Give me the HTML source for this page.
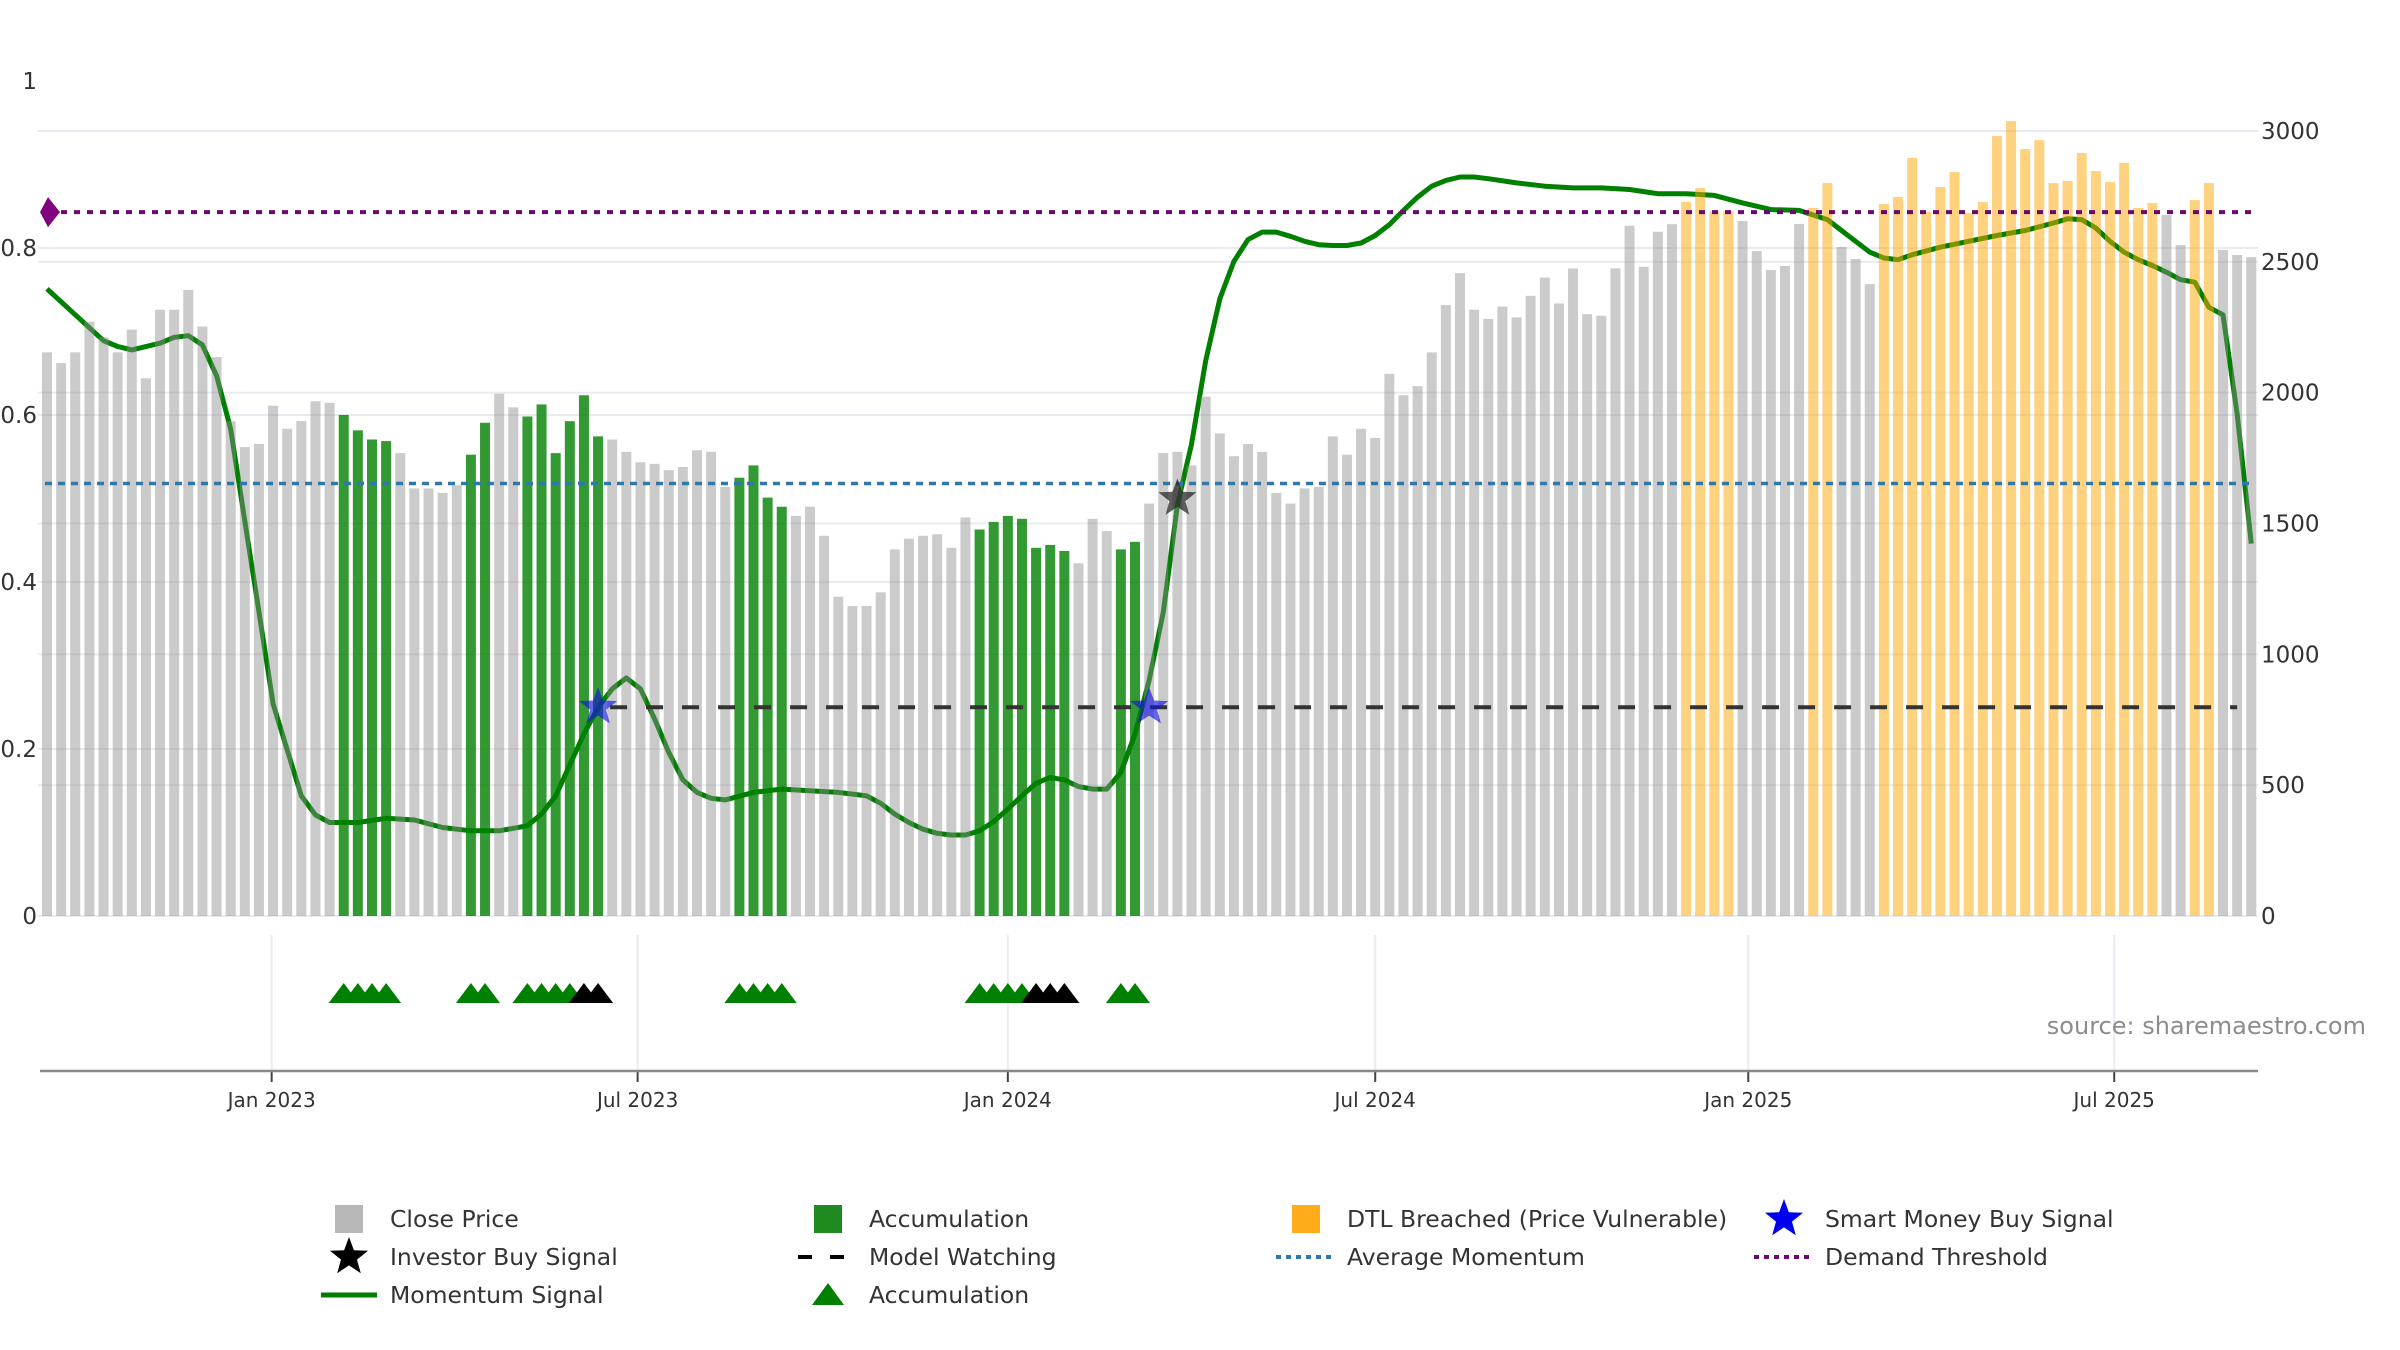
<!DOCTYPE html>
<html><head><meta charset="utf-8"><style>
html,body{margin:0;padding:0;background:#fff;}
svg{display:block;font-family:"DejaVu Sans","Liberation Sans",sans-serif;}
</style></head><body>
<svg id="chart" width="2400" height="1350" viewBox="0 0 2400 1350" xmlns="http://www.w3.org/2000/svg">
<g id="grid"></g>
<g id="lines"></g>
<g id="bars"></g>
<g id="refs"></g>
<g id="marks"></g>
<g id="axes"></g>
<text x="2366" y="1034" text-anchor="end" font-size="24" fill="#8c8c8c">source: sharemaestro.com</text>
<g id="legend"></g>
</svg>
<script>
const prices=[2154,2113,2154,2271,2212,2154,2241,2055,2317,2317,2393,2253,2136,1891,1792,1804,1950,1862,1891,1967,1961,
1915,1856,1821,1815,1769,1634,1634,1617,1646,1763,1885,1996,1944,1909,1955,1769,1891,1990,1833,1821,1774,1734,1728,1704,1716,1780,1774,1640,
1675,1722,1599,1564,1529,1564,1453,1220,1185,1185,1237,1401,1442,1453,1459,1407,1523,1477,1506,1529,1518,1407,1418,1395,1348,1518,1471,1401,1430,
1576,1769,1774,1722,1985,1844,1757,1804,1774,1617,1576,1634,1640,1833,1763,1862,1827,2072,1990,2025,2154,2335,2457,2317,2282,2329,2288,2370,2440,
2341,2475,2300,2294,2475,2638,2481,2615,2644,
2729,2782,2694,2694,2656,2541,2469,2484,2645,2706,2801,2557,2511,2415,2721,2748,2897,2690,2786,2843,2687,2729,2981,3038,2931,2965,2801,2809,2916,2847,2805,
2878,2706,2725,2679,2564,2736,2801,2545,2526,2518];
const accumIdx=[21,22,23,24,30,31,34,35,36,37,38,39,49,50,51,52,66,67,68,69,70,71,72,76,77];
const watchTriIdx=[38,39,70,71,72];
const dtlIdx=[116,117,118,119,125,126,130,131,132,133,134,135,136,137,138,139,140,141,142,143,144,145,146,147,148,149,152,153];
const momIdx=[0,2,4,5,6,8,9,10,11,12,13,14,15,16,17,18,19,20,22,24,26,28,30,32,34,35,36,37,38,39,40,41,42,43,44,45,46,47,48,50,52,54,56,58,59,60,61,62,63,64,65,66,67,68,69,70,71,72,73,74,75,76,77,78,79,80,81,82,83,84,85,86,87,88,89,90,91,92,93,94,95,96,97,98,99,100,101,102,104,106,108,110,112,114,116,118,120,122,124,126,127,128,129,130,131,132,134,136,138,140,142,143,144,145,146,147,148,149,150,151,152,153,154,155,156];
const momVal=[0.751,0.720,0.689,0.682,0.678,0.686,0.693,0.695,0.684,0.647,0.583,0.473,0.364,0.254,0.199,0.144,0.121,0.112,0.112,0.117,0.115,0.106,0.102,0.102,0.108,0.122,0.144,0.181,0.218,0.250,0.272,0.285,0.272,0.236,0.196,0.163,0.148,0.141,0.139,0.148,0.152,0.150,0.148,0.144,0.135,0.122,0.112,0.104,0.099,0.097,0.097,0.102,0.113,0.128,0.144,0.159,0.166,0.163,0.155,0.152,0.152,0.172,0.218,0.282,0.364,0.492,0.565,0.665,0.739,0.784,0.810,0.819,0.819,0.814,0.808,0.804,0.803,0.803,0.806,0.815,0.828,0.845,0.861,0.874,0.881,0.885,0.885,0.883,0.878,0.874,0.872,0.872,0.870,0.865,0.865,0.863,0.854,0.846,0.845,0.834,0.821,0.808,0.795,0.788,0.786,0.792,0.801,0.808,0.815,0.821,0.830,0.835,0.834,0.824,0.808,0.795,0.786,0.779,0.771,0.762,0.759,0.729,0.720,0.601,0.446];
const smartIdx=[39,78];
const investorIdx=[80];
const investorVal=[0.5];
const watchStart=39;
const demandThreshold=0.843;
const avgMomentum=0.518;
const watchLevel=0.25;
const leftTicks=[0,0.2,0.4,0.6,0.8,1];
const leftTickLabels=["0","0.2","0.4","0.6","0.8","1"];
const rightTicks=[0,500,1000,1500,2000,2500,3000];
const dateTickIdx=[15.9,41.8,68.0,94.0,120.4,146.3];
const dateTickLabels=["Jan 2023","Jul 2023","Jan 2024","Jul 2024","Jan 2025","Jul 2025"];

const NS="http://www.w3.org/2000/svg";
const X0=47,DX=14.13,Y0=916;
const xs=i=>X0+DX*i;
const yL=v=>Y0-v*835;
const yR=p=>Y0-p*785/3000;
function mk(parent,tag,attrs){const e=document.createElementNS(NS,tag);for(const k in attrs)e.setAttribute(k,attrs[k]);parent.appendChild(e);return e;}
const G=id=>document.getElementById(id);

leftTicks.forEach((v,k)=>{if(v<1){const l=mk(G('grid'),'line',{x1:38,x2:2258,y1:yL(v),y2:yL(v),stroke:'#e8ebf1','stroke-width':2});

}
const t=mk(G('axes'),'text',{x:37,y:yL(v)+8,'text-anchor':'end','font-size':23,fill:'#333'});t.textContent=leftTickLabels[k];

});
rightTicks.forEach(v=>{const l=mk(G('grid'),'line',{x1:38,x2:2258,y1:yR(v),y2:yR(v),stroke:'#e8ebf1','stroke-width':2});


const t=mk(G('axes'),'text',{x:2261,y:yR(v)+8,'font-size':23,fill:'#333'});t.textContent=String(v);

});
dateTickIdx.forEach((d,k)=>{const x=xs(d);
const l=mk(G('grid'),'line',{x1:x,x2:x,y1:935,y2:1071,stroke:'#e8ebf1','stroke-width':2});


const tk=mk(G('axes'),'line',{x1:x,x2:x,y1:1071,y2:1082,stroke:'#444','stroke-width':2});


const t=mk(G('axes'),'text',{x:x,y:1107,'text-anchor':'middle','font-size':20,fill:'#333'});t.textContent=dateTickLabels[k];

});
const ax=mk(G('axes'),'line',{x1:40,x2:2258,y1:1071,y2:1071,stroke:'#888','stroke-width':2.5});



let d='';momIdx.forEach((i,k)=>{d+=(k?'L':'M')+xs(i).toFixed(1)+','+yL(momVal[k]).toFixed(1);});
const ml=mk(G('lines'),'path',{d:d,fill:'none',stroke:'#008000','stroke-width':5,'stroke-linejoin':'round'});



prices.forEach((p,i)=>{let fill='rgba(140,140,140,0.45)',nm='close-price-bar';
if(accumIdx.includes(i)){fill='rgba(0,128,0,0.8)';nm='accumulation-bar';}
else if(dtlIdx.includes(i)){fill='rgba(255,165,0,0.5)';nm='dtl-breached-bar';}
const r=mk(G('bars'),'rect',{x:xs(i)-5,y:yR(p),width:10,height:Y0-yR(p),fill:fill});

});

const pl=mk(G('refs'),'line',{x1:48,x2:2252,y1:yL(demandThreshold),y2:yL(demandThreshold),stroke:'#6a0a6e','stroke-width':4,'stroke-dasharray':'6 7'});


const dy=yL(demandThreshold);
const dm=mk(G('refs'),'path',{d:`M48,${dy-15}L60,${dy}L48,${dy+15}L40,${dy}Z`,fill:'#800080'});


const bl=mk(G('refs'),'line',{x1:45,x2:2252,y1:yL(avgMomentum),y2:yL(avgMomentum),stroke:'#2f78a8','stroke-width':3.5,'stroke-dasharray':'7 6'});


const wl=mk(G('refs'),'line',{x1:xs(watchStart)+12,x2:xs(prices.length-2),y1:yL(watchLevel),y2:yL(watchLevel),stroke:'#333','stroke-width':4,'stroke-dasharray':'17 19'});



function starPath(cx,cy,R){const r=R*0.42;let s='';for(let k=0;k<10;k++){const a=-Math.PI/2+k*Math.PI/5;const rr=k%2?r:R;s+=(k?'L':'M')+(cx+rr*Math.cos(a)).toFixed(1)+','+(cy+rr*Math.sin(a)).toFixed(1);}return s+'Z';}
smartIdx.forEach(i=>{const s=mk(G('marks'),'path',{d:starPath(xs(i),yL(watchLevel),20),fill:'rgba(20,20,220,0.65)'});

});
investorIdx.forEach((i,k)=>{const s=mk(G('marks'),'path',{d:starPath(xs(i),yL(investorVal[k]),20),fill:'rgba(40,40,40,0.75)'});

});
accumIdx.forEach(i=>{const x=xs(i),c=watchTriIdx.includes(i)?'#000':'#008000';
const t=mk(G('marks'),'path',{d:`M${x},983L${x+15},1003L${x-15},1003Z`,fill:c});

});

const L=G('legend');
const rows=[1219,1257,1295],cols=[349,828,1306,1784];
const items=[[0,0,'sq','#b8b8b8','Close Price'],[0,1,'sq','#1f8a1f','Accumulation'],[0,2,'sq','#ffab1a','DTL Breached (Price Vulnerable)'],[0,3,'star','#0000ee','Smart Money Buy Signal'],
[1,0,'star','#000','Investor Buy Signal'],[1,1,'dash','#000','Model Watching'],[1,2,'dot','#2f78a8','Average Momentum'],[1,3,'dot','#6a0a6e','Demand Threshold'],
[2,0,'line','#008000','Momentum Signal'],[2,1,'tri','#008000','Accumulation']];
items.forEach(it=>{const y=rows[it[0]],x=cols[it[1]];let e;
if(it[2]==='sq')e=mk(L,'rect',{x:x-14,y:y-14,width:28,height:28,fill:it[3]});
else if(it[2]==='star')e=mk(L,'path',{d:starPath(x,y,20),fill:it[3]});
else if(it[2]==='tri')e=mk(L,'path',{d:`M${x},${y-12}L${x+16},${y+10}L${x-16},${y+10}Z`,fill:it[3]});
else if(it[2]==='line')e=mk(L,'line',{x1:x-28,x2:x+28,y1:y,y2:y,stroke:it[3],'stroke-width':5});
else if(it[2]==='dash')e=mk(L,'line',{x1:x-30,x2:x+30,y1:y,y2:y,stroke:it[3],'stroke-width':4,'stroke-dasharray':'14 18'});
else e=mk(L,'line',{x1:x-30,x2:x+30,y1:y,y2:y,stroke:it[3],'stroke-width':4,'stroke-dasharray':'5 5'});


const t=mk(L,'text',{x:x+41,y:y+8,'font-size':23.5,fill:'#333'});t.textContent=it[4];

});
</script>
</body></html>
